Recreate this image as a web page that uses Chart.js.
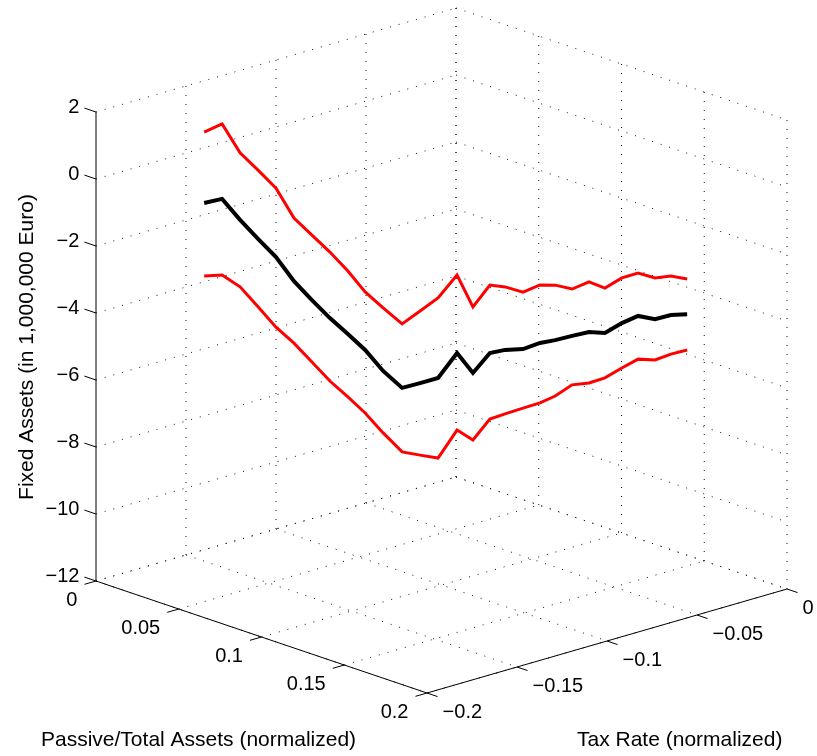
<!DOCTYPE html>
<html>
<head>
<meta charset="utf-8">
<script src="https://cdn.jsdelivr.net/npm/chart.js@4"></script>
<style>
  html, body { margin: 0; padding: 0; background: #fff; }
  canvas { display: block; }
</style>
</head>
<body>
<canvas id="chart" width="817" height="756"></canvas>
<script>
// DATA (points along the curve)
const passive = [0.0313, 0.0365, 0.0417, 0.0469, 0.0521, 0.0573, 0.0625, 0.0677, 0.0729, 0.0779,
                 0.0831, 0.0886, 0.0938, 0.0990, 0.1045, 0.1091, 0.1140, 0.1184, 0.1236, 0.1285,
                 0.1329, 0.1378, 0.1427, 0.1473, 0.1522, 0.1569, 0.1618, 0.1664, 0.1711];
const taxRate = [-0.1687, -0.1635, -0.1583, -0.1531, -0.1479, -0.1427, -0.1375, -0.1323, -0.1271, -0.1221,
                 -0.1169, -0.1114, -0.1062, -0.1010, -0.0955, -0.0909, -0.0860, -0.0816, -0.0764, -0.0715,
                 -0.0671, -0.0622, -0.0573, -0.0527, -0.0478, -0.0431, -0.0382, -0.0336, -0.0289];
const upperBand = [1.44, 1.69, 0.83, 0.32, -0.21, -1.10, -1.60, -2.10, -2.66, -3.28,
                   -3.75, -4.22, -3.83, -3.43, -2.74, -3.69, -3.03, -3.08, -3.23, -3.01,
                   -3.01, -3.12, -2.90, -3.08, -2.77, -2.62, -2.76, -2.70, -2.78];
const estimate = [-0.68, -0.55, -1.17, -1.73, -2.27, -2.98, -3.54, -4.07, -4.54, -5.01,
                  -5.63, -6.13, -5.98, -5.82, -5.07, -5.66, -5.06, -4.96, -4.93, -4.74,
                  -4.65, -4.52, -4.40, -4.42, -4.12, -3.90, -3.99, -3.86, -3.83];
const lowerBand = [-2.86, -2.82, -3.17, -3.76, -4.36, -4.83, -5.39, -5.95, -6.42, -6.89,
                   -7.48, -8.04, -8.13, -8.21, -7.37, -7.66, -7.03, -6.87, -6.69, -6.53,
                   -6.32, -5.98, -5.92, -5.76, -5.46, -5.19, -5.21, -5.03, -4.90];

const passiveTicks = [0, 0.05, 0.1, 0.15, 0.2];
const passiveLabels = ["0", "0.05", "0.1", "0.15", "0.2"];
const taxTicks = [-0.2, -0.15, -0.1, -0.05, 0];
const taxLabels = ["\u22120.2", "\u22120.15", "\u22120.1", "\u22120.05", "0"];
const fixedTicks = [-12, -10, -8, -6, -4, -2, 0, 2];
const fixedLabels = ["\u221212", "\u221210", "\u22128", "\u22126", "\u22124", "\u22122", "0", "2"];

const X_RANGE = [0, 0.2];
const Y_RANGE = [-0.2, 0];
const Z_RANGE = [-12, 2];

// view: screen offsets of the three unit box edges (orthographic)
const VIEW = { ax: 331, ay: 112, bx: 360, by: -104, cz: 469 };
const FONT = '"Liberation Sans", Arial, Helvetica, sans-serif';

// 3D -> 2D (values in the chart's own linear scales)
function proj(x, y, z) {
    const a = (x - X_RANGE[0]) / (X_RANGE[1] - X_RANGE[0]);
    const b = (y - Y_RANGE[0]) / (Y_RANGE[1] - Y_RANGE[0]);
    const c = (z - Z_RANGE[0]) / (Z_RANGE[1] - Z_RANGE[0]);
    return {
        x: a * VIEW.ax + b * VIEW.bx,
        y: -(a * VIEW.ay + b * VIEW.by) + c * VIEW.cz
    };
}

function curve(zs) {
    return zs.map((z, i) => proj(passive[i], taxRate[i], z));
}

// box, grid, axes, ticks and labels
const boxPlugin = {
    id: "box3d",
    beforeDatasetsDraw(chart) {
        const ctx = chart.ctx;
        const sx = chart.scales.x, sy = chart.scales.y;
        const P = (x, y, z) => {
            const p = proj(x, y, z);
            return [sx.getPixelForValue(p.x), sy.getPixelForValue(p.y)];
        };
        const seg = (p, q) => {
            ctx.beginPath();
            ctx.moveTo(p[0], p[1]);
            ctx.lineTo(q[0], q[1]);
            ctx.stroke();
        };
        const [x0, x1] = X_RANGE, [y0, y1] = Y_RANGE, [z0, z1] = Z_RANGE;

        ctx.save();
        // dotted grid
        ctx.strokeStyle = "#111";
        ctx.lineWidth = 1;
        ctx.setLineDash([1, 8]);
        fixedTicks.forEach(z => {
            seg(P(x0, y0, z), P(x0, y1, z));
            seg(P(x0, y1, z), P(x1, y1, z));
        });
        taxTicks.forEach(y => {
            if (y !== y0) seg(P(x0, y, z0), P(x0, y, z1));
            seg(P(x0, y, z0), P(x1, y, z0));
        });
        passiveTicks.forEach(x => {
            seg(P(x, y1, z0), P(x, y1, z1));
            seg(P(x, y0, z0), P(x, y1, z0));
        });

        // solid axes
        ctx.setLineDash([]);
        ctx.strokeStyle = "#000";
        seg(P(x0, y0, z0), P(x0, y0, z1));
        seg(P(x0, y0, z0), P(x1, y0, z0));
        seg(P(x1, y0, z0), P(x1, y1, z0));

        const tA = 0.035 * (x1 - x0), tB = 0.032 * (y1 - y0);
        ctx.fillStyle = "#000";
        ctx.font = "20px " + FONT;

        // z ticks
        ctx.textAlign = "right";
        ctx.textBaseline = "middle";
        fixedTicks.forEach((z, i) => {
            const p = P(x0, y0, z), q = P(x0 - tA, y0, z);
            seg(p, q);
            ctx.fillText(fixedLabels[i], q[0] - 5, q[1] - 1);
        });
        // passive ticks
        passiveTicks.forEach((x, i) => {
            const p = P(x, y0, z0), q = P(x, y0 - tB, z0);
            seg(p, q);
            ctx.fillText(passiveLabels[i], q[0] - 7, q[1] + 16);
        });
        // tax ticks
        ctx.textAlign = "left";
        taxTicks.forEach((y, i) => {
            const p = P(x1, y, z0), q = P(x1 + 0.032 * (x1 - x0), y, z0);
            seg(p, q);
            ctx.fillText(taxLabels[i], q[0] + 5, q[1] + 16);
        });

        // axis titles
        ctx.font = "21px " + FONT;
        ctx.textBaseline = "alphabetic";
        ctx.textAlign = "left";
        ctx.fillText("Passive/Total Assets (normalized)", 41, 746);
        ctx.fillText("Tax Rate (normalized)", 577, 746);
        ctx.save();
        ctx.translate(33, 347);
        ctx.rotate(-Math.PI / 2);
        ctx.textAlign = "center";
        ctx.fillText("Fixed Assets (in 1,000,000 Euro)", 0, 0);
        ctx.restore();
        ctx.restore();
    }
};

new Chart(document.getElementById("chart"), {
    type: "scatter",
    data: {
        datasets: [
            { label: "upper", data: curve(upperBand), showLine: true, borderColor: "#ff0000", borderWidth: 3, pointRadius: 0, tension: 0 },
            { label: "lower", data: curve(lowerBand), showLine: true, borderColor: "#ff0000", borderWidth: 3, pointRadius: 0, tension: 0 },
            { label: "estimate", data: curve(estimate), showLine: true, borderColor: "#000000", borderWidth: 4, pointRadius: 0, tension: 0 }
        ]
    },
    options: {
        responsive: false,
        animation: false,
        devicePixelRatio: 1,
        layout: { padding: 0 },
        scales: {
            x: { type: "linear", min: -96, max: 721, display: false },
            y: { type: "linear", min: -175, max: 581, display: false }
        },
        plugins: {
            legend: { display: false },
            tooltip: { enabled: false }
        },
        events: []
    },
    plugins: [boxPlugin]
});
</script>
</body>
</html>
